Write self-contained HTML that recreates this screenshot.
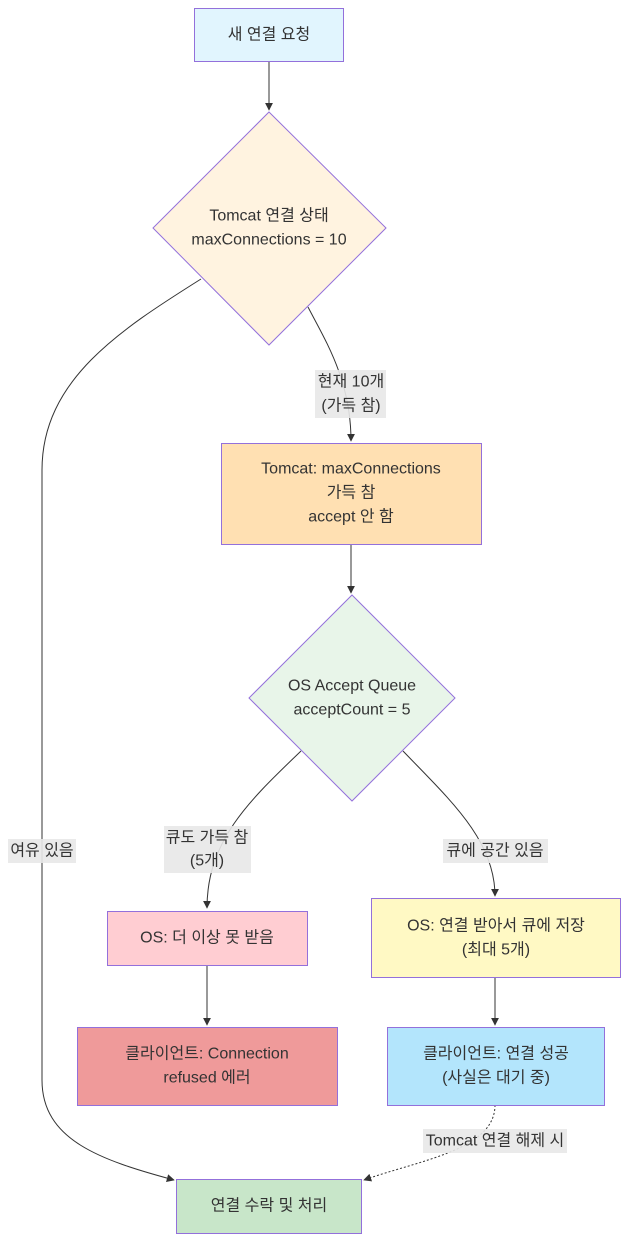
<!DOCTYPE html>
<html><head><meta charset="utf-8"><style>
body{margin:0;background:#fff;}
svg{display:block;}
text{font-family:"Liberation Sans","Noto Sans CJK KR",sans-serif;font-size:16px;fill:#333;text-anchor:middle;dominant-baseline:central;}
.n{stroke:#9370db;stroke-width:1;}
.e{fill:none;stroke:#333;stroke-width:1;}
.lb{fill:#e8e8e8;opacity:0.9;}
</style></head><body>
<svg width="629" height="1241" viewBox="0 0 629 1241" xmlns="http://www.w3.org/2000/svg">
<defs><marker id="a" viewBox="0 0 10 10" refX="9" refY="5" markerWidth="8" markerHeight="8" orient="auto"><path d="M0,0L10,5L0,10z" fill="#333"/></marker></defs>
<!-- edges -->
<path class="e" d="M269,61 L269,110" marker-end="url(#a)"/>
<path class="e" d="M308,307 C325,340 351,380 351,441" marker-end="url(#a)"/>
<path class="e" d="M351,545 L351,593" marker-end="url(#a)"/>
<path class="e" d="M301,751 C250,800 207,840 207,908" marker-end="url(#a)"/>
<path class="e" d="M403,751 C450,800 495,840 495,896" marker-end="url(#a)"/>
<path class="e" d="M207,965 L207,1025" marker-end="url(#a)"/>
<path class="e" d="M495,977 L495,1025" marker-end="url(#a)"/>
<path class="e" d="M201,279 C120,330 42,380 42,470 L42,1080 C42,1140 100,1160 174,1180" marker-end="url(#a)"/>
<path class="e" d="M495,1105 C495,1150 420,1160 364,1180" stroke-dasharray="2,2" marker-end="url(#a)"/>
<!-- nodes -->
<rect class="n" x="194.5" y="8.5" width="149" height="53" fill="#e1f5fe"/>
<text x="269" y="35">새 연결 요청</text>
<polygon class="n" points="269,112 386,228 269,345 153,228" fill="#fff3e0"/>
<text x="269" y="216">Tomcat 연결 상태</text>
<text x="269" y="240">maxConnections = 10</text>
<rect class="n" x="221.5" y="443.5" width="260" height="101" fill="#ffe0b2"/>
<text x="351" y="469">Tomcat: maxConnections</text>
<text x="351" y="493">가득 참</text>
<text x="351" y="517">accept 안 함</text>
<polygon class="n" points="352,595 455,698 352,801 249,698" fill="#e8f5e9"/>
<text x="352" y="686">OS Accept Queue</text>
<text x="352" y="710">acceptCount = 5</text>
<rect class="n" x="107.5" y="911.5" width="200" height="54" fill="#ffcdd2"/>
<text x="207" y="938">OS: 더 이상 못 받음</text>
<rect class="n" x="77.5" y="1027.5" width="260" height="78" fill="#ef9a9a"/>
<text x="207" y="1054">클라이언트: Connection</text>
<text x="207" y="1078">refused 에러</text>
<rect class="n" x="371.5" y="898.5" width="249" height="79" fill="#fff9c4"/>
<text x="496" y="926">OS: 연결 받아서 큐에 저장</text>
<text x="496" y="950">(최대 5개)</text>
<rect class="n" x="387.5" y="1027.5" width="217" height="78" fill="#b3e5fc"/>
<text x="496" y="1054">클라이언트: 연결 성공</text>
<text x="496" y="1078">(사실은 대기 중)</text>
<rect class="n" x="176.5" y="1179.5" width="185" height="54" fill="#c8e6c9"/>
<text x="269" y="1206">연결 수락 및 처리</text>
<!-- labels -->
<rect class="lb" x="315" y="370" width="71" height="48"/>
<text x="351" y="382">현재 10개</text>
<text x="351" y="406">(가득 참)</text>
<rect class="lb" x="164" y="826" width="87" height="47"/>
<text x="207" y="838">큐도 가득 참</text>
<text x="207" y="861">(5개)</text>
<rect class="lb" x="443" y="839" width="105" height="24"/>
<text x="495" y="851">큐에 공간 있음</text>
<rect class="lb" x="8" y="839" width="68" height="24"/>
<text x="42" y="851">여유 있음</text>
<rect class="lb" x="423" y="1129" width="144" height="24"/>
<text x="495" y="1141">Tomcat 연결 해제 시</text>
</svg>
</body></html>
